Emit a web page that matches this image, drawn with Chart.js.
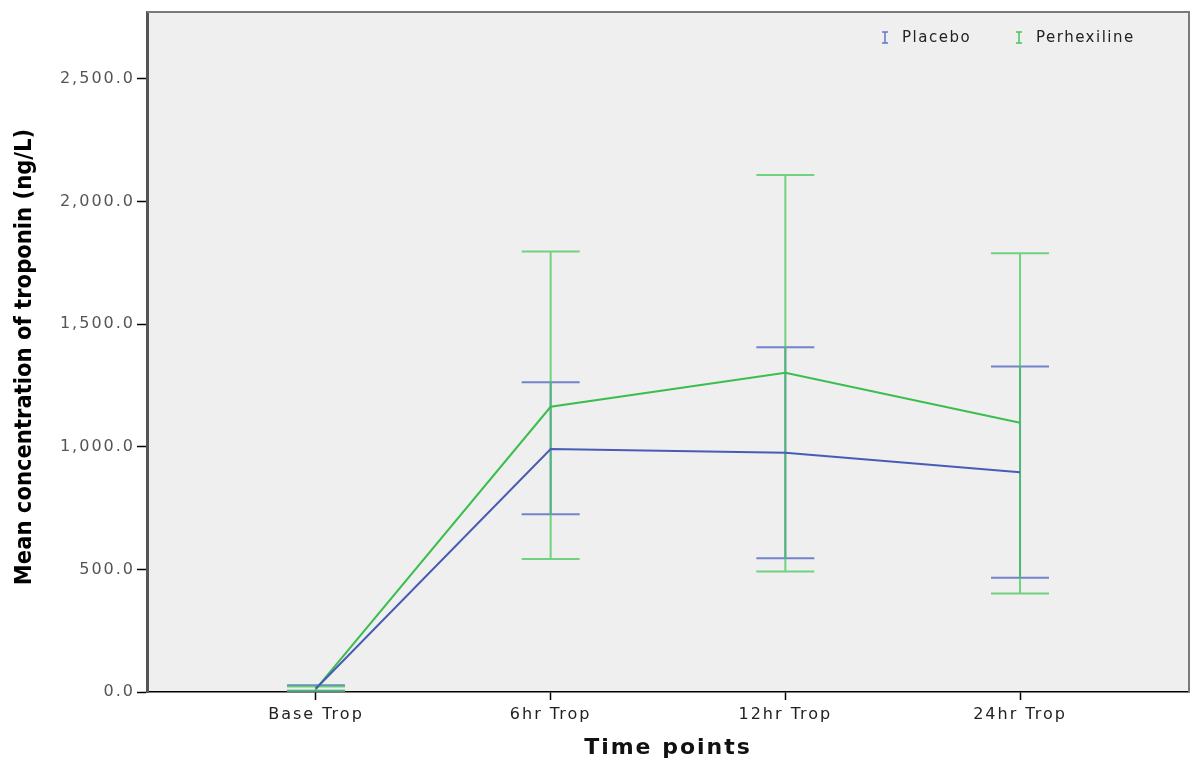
<!DOCTYPE html>
<html>
<head>
<meta charset="utf-8">
<script src="https://cdn.jsdelivr.net/npm/chart.js@4"></script>
<style>
    body { margin: 0; background: #ffffff; }
    #wrap { width: 1192px; height: 764px; }
</style>
</head>
<body>
<div id="wrap"><canvas id="tropChart" width="1192" height="764"></canvas></div>
<script>
// values
const timePoints = ['Base Trop', '6hr Trop', '12hr Trop', '24hr Trop'];
const placeboMean = [14, 991, 976, 896];
const placeboLow = [4, 725, 545, 466];
const placeboHigh = [28, 1263, 1406, 1327];
const perhexMean = [13, 1163, 1302, 1098];
const perhexLow = [6, 542, 491, 402];
const perhexHigh = [22, 1796, 2108, 1789];
const yTicks = [0, 500, 1000, 1500, 2000, 2500];
const yTitle = 'Mean concentration of troponin (ng/L)';

const blue = 'rgb(72, 92, 182)';
const green = 'rgb(58, 190, 78)';

function toPoints(arr) {
    return arr.map((v, i) => ({ x: i, y: v }));
}

// wide lettering like the original
const spacingPlugin = {
    id: 'spacing',
    beforeUpdate(chart) { chart.ctx.letterSpacing = '2px'; },
    beforeDraw(chart) { chart.ctx.letterSpacing = '2px'; }
};

const plotBackground = {
    id: 'plotBackground',
    beforeDraw(chart) {
        const { ctx, chartArea: a } = chart;
        ctx.save();
        ctx.fillStyle = '#efefef';
        ctx.fillRect(a.left, a.top, a.right - a.left, a.bottom - a.top);
        ctx.restore();
    },
    afterDraw(chart) {
        const { ctx, chartArea: a } = chart;
        ctx.save();
        ctx.strokeStyle = '#7a7a7a';
        ctx.lineWidth = 2;
        ctx.beginPath();
        ctx.moveTo(a.left, a.top);
        ctx.lineTo(a.right, a.top);
        ctx.lineTo(a.right, a.bottom);
        ctx.stroke();

        // y axis title, condensed and tight
        ctx.letterSpacing = '0px';
        ctx.translate(25, (a.top + a.bottom) / 2 + 5);
        ctx.rotate(-Math.PI / 2);
        ctx.font = 'bold 23.5px "DejaVu Sans Condensed", "DejaVu Sans"';
        ctx.fillStyle = '#000000';
        ctx.textAlign = 'center';
        ctx.textBaseline = 'middle';
        ctx.fillText(yTitle, 0, 0);
        ctx.restore();
    }
};

function drawBars(chart, low, high, color, alpha) {
    const ctx = chart.ctx;
    const xs = chart.scales.x, ys = chart.scales.y;
    ctx.save();
    ctx.globalAlpha = alpha;
    ctx.strokeStyle = color;
    ctx.lineWidth = 2;
    for (let i = 0; i < low.length; i++) {
        const x = xs.getPixelForValue(i);
        const y1 = ys.getPixelForValue(low[i]);
        const y2 = ys.getPixelForValue(high[i]);
        ctx.beginPath();
        ctx.moveTo(x, y1); ctx.lineTo(x, y2);
        ctx.moveTo(x - 29, y1); ctx.lineTo(x + 29, y1);
        ctx.moveTo(x - 29, y2); ctx.lineTo(x + 29, y2);
        ctx.stroke();
    }
    ctx.restore();
}

const errorBars = {
    id: 'errorBars',
    beforeDatasetsDraw(chart) {
        drawBars(chart, placeboLow, placeboHigh, 'rgb(100, 120, 200)', 0.9);
        drawBars(chart, perhexLow, perhexHigh, 'rgb(70, 200, 90)', 0.75);
    }
};

const legendBox = {
    id: 'legendBox',
    afterDraw(chart) {
        const ctx = chart.ctx;
        const items = [
            { label: 'Placebo', color: 'rgb(100, 120, 200)', x: 885 },
            { label: 'Perhexiline', color: 'rgb(70, 200, 90)', x: 1019 }
        ];
        ctx.save();
        ctx.letterSpacing = '1.5px';
        ctx.font = '15px "DejaVu Sans"';
        ctx.textBaseline = 'middle';
        items.forEach(it => {
            ctx.strokeStyle = it.color;
            ctx.lineWidth = 1.5;
            ctx.beginPath();
            ctx.moveTo(it.x, 32); ctx.lineTo(it.x, 43);
            ctx.moveTo(it.x - 3, 32); ctx.lineTo(it.x + 3, 32);
            ctx.moveTo(it.x - 3, 43); ctx.lineTo(it.x + 3, 43);
            ctx.stroke();
            ctx.fillStyle = '#222222';
            ctx.fillText(it.label, it.x + 17, 38);
        });
        ctx.restore();
    }
};

const ctx = document.getElementById('tropChart').getContext('2d');

const data = {
    datasets: [
        {
            label: 'Placebo',
            data: toPoints(placeboMean),
            borderColor: blue,
            borderWidth: 2,
            pointRadius: 0,
            fill: false,
            tension: 0
        },
        {
            label: 'Perhexiline',
            data: toPoints(perhexMean),
            borderColor: green,
            borderWidth: 2,
            pointRadius: 0,
            fill: false,
            tension: 0
        }
    ]
};

const options = {
    responsive: false,
    animation: false,
    layout: { padding: { left: 0, right: 3, top: 12, bottom: 0 } },
    plugins: {
        legend: { display: false },
        tooltip: { enabled: false }
    },
    scales: {
        x: {
            type: 'linear',
            min: -0.72,
            max: 3.72,
            afterBuildTicks: scale => {
                scale.ticks = timePoints.map((t, i) => ({ value: i }));
            },
            afterFit: scale => { scale.height = 72; },
            ticks: {
                callback: value => timePoints[value],
                color: '#222222',
                font: { family: '"DejaVu Sans"', size: 16 },
                padding: 5,
                maxRotation: 0
            },
            grid: {
                drawOnChartArea: false,
                tickLength: 8,
                color: '#000000',
                tickWidth: 1.5
            },
            border: { display: true, color: '#000000', width: 1.5 },
            title: {
                display: true,
                text: 'Time points',
                color: '#111111',
                font: { family: '"DejaVu Sans"', size: 22, weight: 'bold' },
                padding: { top: 0, bottom: 3 }
            }
        },
        y: {
            min: 0,
            max: 2773,
            afterBuildTicks: scale => {
                scale.ticks = yTicks.map(v => ({ value: v }));
            },
            afterFit: scale => { scale.width = 147; },
            ticks: {
                callback: value => value.toLocaleString('en-US', { minimumFractionDigits: 1, maximumFractionDigits: 1 }),
                color: '#555555',
                font: { family: '"DejaVu Sans"', size: 16 },
                padding: 2
            },
            grid: {
                drawOnChartArea: false,
                tickLength: 10,
                color: '#000000',
                tickWidth: 1.5
            },
            border: { display: true, color: '#555555', width: 3 },
            title: { display: false }
        }
    }
};

const tropChart = new Chart(ctx, {
    type: 'line',
    data: data,
    options: options,
    plugins: [spacingPlugin, plotBackground, errorBars, legendBox]
});
</script>
</body>
</html>
